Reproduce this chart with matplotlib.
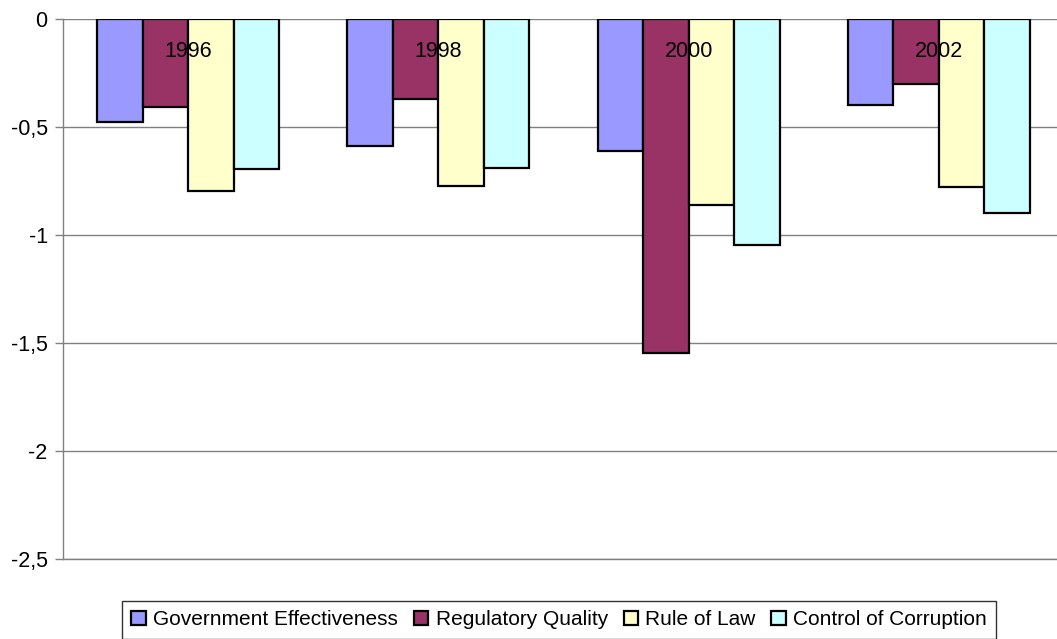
import matplotlib
matplotlib.use("Agg")
import matplotlib.pyplot as plt
import numpy as np

years = ["1996", "1998", "2000", "2002"]
series_names = ["Government Effectiveness", "Regulatory Quality", "Rule of Law", "Control of Corruption"]
gov_eff = [-0.48, -0.59, -0.61, -0.40]
reg_quality = [-0.41, -0.37, -1.545, -0.30]
rule_of_law = [-0.795, -0.775, -0.862, -0.777]
control_corr = [-0.695, -0.69, -1.047, -0.897]
colors = ["#9999FF", "#993366", "#FFFFCC", "#CCFFFF"]
yticks = [0, -0.5, -1, -1.5, -2, -2.5]
ytick_labels = ["0", "-0,5", "-1", "-1,5", "-2", "-2,5"]

plt.rcParams['font.family'] = ['Liberation Sans', 'DejaVu Sans']

W, H = 1057, 639
fig = plt.figure(figsize=(W / 100, H / 100), dpi=100)
left, right, top, bottom = 63, 1064, 18.7, 559
ax = fig.add_axes([left / W, 1 - bottom / H, (right - left) / W, (bottom - top) / H])

data = [gov_eff, reg_quality, rule_of_law, control_corr]
x = np.arange(len(years))
bw = 0.182
for i, (vals, c, name) in enumerate(zip(data, colors, series_names)):
    ax.bar(x + (i - 1.5) * bw, vals, bw, color=c, edgecolor="black", linewidth=1.6,
           label=name, zorder=3)

for xi, yr in zip(x, years):
    ax.text(xi, -0.15, yr, ha="center", va="center", fontsize=15.5, zorder=5)

ax.set_xlim(-0.5, len(years) - 0.5)
ax.set_ylim(-2.5, 0)
ax.set_yticks(yticks)
ax.set_yticklabels(ytick_labels, fontsize=15.5)
ax.set_xticks([])
ax.yaxis.grid(True, color="#808080", linewidth=1.0, zorder=0)
ax.tick_params(axis="y", direction="out", length=6, color="#808080", width=1.0, pad=5)
for s in ["top", "right"]:
    ax.spines[s].set_visible(False)
for s in ["left", "bottom"]:
    ax.spines[s].set_color("#808080")
    ax.spines[s].set_linewidth(1.0)

leg = fig.legend(loc="upper left", bbox_to_anchor=(122 / W, 1 - 601 / H), ncol=4,
                 fontsize=15, frameon=True, fancybox=False, edgecolor="black",
                 handlelength=0.7, handleheight=0.7, handletextpad=0.35,
                 columnspacing=0.75, borderpad=0.45, borderaxespad=0)
leg.get_frame().set_linewidth(1.0)
for h in leg.legend_handles:
    h.set_linewidth(1.6)

fig.savefig("out.png", dpi=100)
